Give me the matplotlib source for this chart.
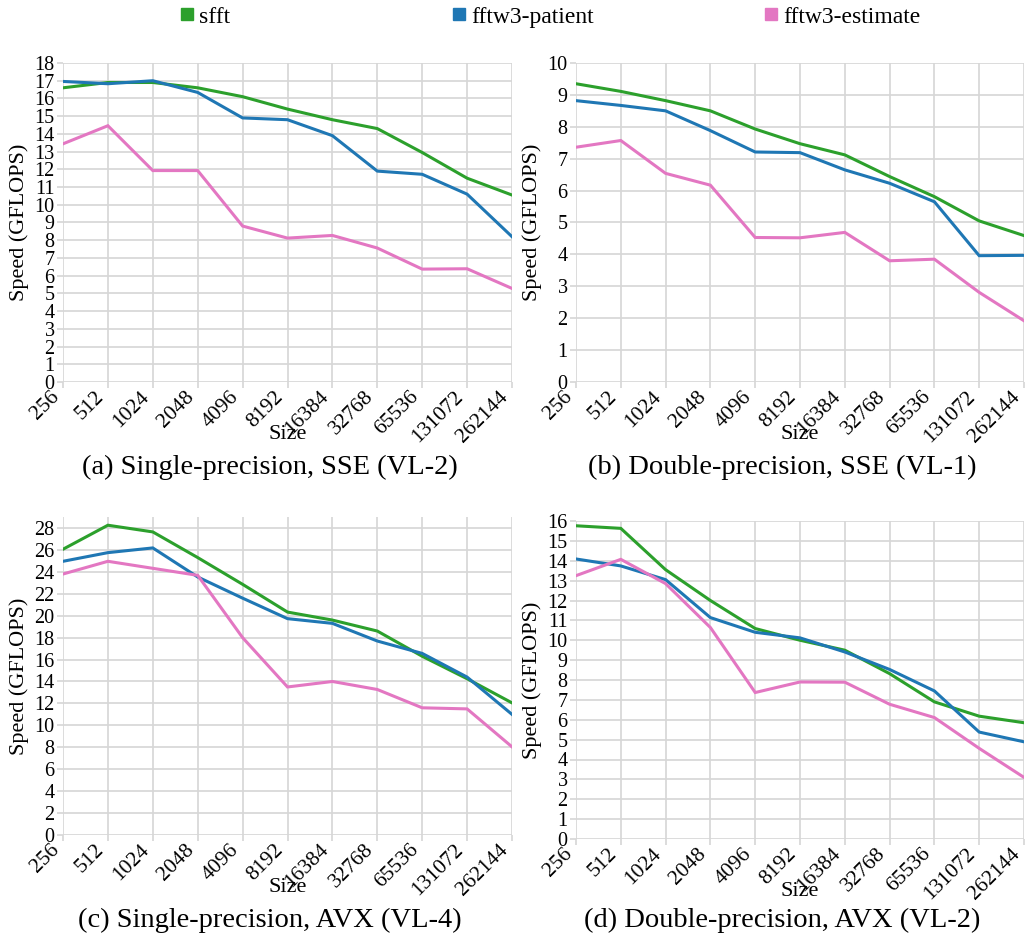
import numpy as np
import matplotlib.pyplot as plt
from matplotlib.lines import Line2D

plt.rcParams["font.family"] = ["Liberation Serif", "DejaVu Serif"]

sizes = ["256", "512", "1024", "2048", "4096", "8192", "16384",
         "32768", "65536", "131072", "262144"]
series_names = ["sfft", "fftw3-patient", "fftw3-estimate"]
colors = ["#2ca02c", "#1f77b4", "#e377c2"]

# (a) single precision, SSE
sse_single_sfft = [16.6, 16.9, 16.9, 16.6, 16.1, 15.4, 14.8, 14.3, 12.95, 11.5, 10.55]
sse_single_patient = [16.96, 16.83, 17.0, 16.34, 14.9, 14.8, 13.9, 11.9, 11.72, 10.6, 8.2]
sse_single_estimate = [13.44, 14.46, 11.93, 11.93, 8.8, 8.12, 8.27, 7.56, 6.37, 6.39, 5.28]

# (b) double precision, SSE
sse_double_sfft = [9.35, 9.11, 8.82, 8.5, 7.93, 7.47, 7.12, 6.44, 5.81, 5.05, 4.59]
sse_double_patient = [8.82, 8.67, 8.5, 7.88, 7.21, 7.19, 6.65, 6.23, 5.65, 3.96, 3.97]
sse_double_estimate = [7.36, 7.57, 6.54, 6.17, 4.53, 4.52, 4.69, 3.8, 3.85, 2.81, 1.92]

# (c) single precision, AVX
avx_single_sfft = [26.06, 28.25, 27.64, 25.3, 22.86, 20.33, 19.6, 18.6, 16.3, 14.25, 12.05]
avx_single_patient = [24.96, 25.75, 26.18, 23.53, 21.6, 19.73, 19.3, 17.69, 16.56, 14.4, 11.0]
avx_single_estimate = [23.8, 24.96, 24.32, 23.68, 18.0, 13.5, 14.0, 13.27, 11.6, 11.5, 8.04]

# (d) double precision, AVX
avx_double_sfft = [15.76, 15.63, 13.55, 12.0, 10.59, 10.0, 9.5, 8.32, 6.9, 6.18, 5.85]
avx_double_patient = [14.09, 13.74, 13.05, 11.14, 10.4, 10.12, 9.41, 8.53, 7.45, 5.38, 4.89]
avx_double_estimate = [13.25, 14.07, 12.85, 10.64, 7.37, 7.9, 7.89, 6.78, 6.11, 4.56, 3.1]

captions = ["(a) Single-precision, SSE (VL-2)", "(b) Double-precision, SSE (VL-1)",
            "(c) Single-precision, AVX (VL-4)", "(d) Double-precision, AVX (VL-2)"]

panels = [
    ([sse_single_sfft, sse_single_patient, sse_single_estimate], 18, 1),
    ([sse_double_sfft, sse_double_patient, sse_double_estimate], 10, 1),
    ([avx_single_sfft, avx_single_patient, avx_single_estimate], 29, 2),
    ([avx_double_sfft, avx_double_patient, avx_double_estimate], 16, 1),
]

W, H = 1030, 938
fig = plt.figure(figsize=(W / 100, H / 100), dpi=100)

# axes boxes in pixels: left, top, right, bottom
boxes = [(63, 63, 512, 382), (576, 63, 1024, 382),
         (63, 517, 512, 835), (576, 521, 1024, 839)]
caption_pos = [(270, 467), (782, 467), (270, 920), (782, 920)]

x = np.arange(len(sizes))
for (data, ymax, step), (l, t, r, b), cap, (cx, cy) in zip(panels, boxes, captions, caption_pos):
    ax = fig.add_axes([l / W, 1 - b / H, (r - l) / W, (b - t) / H])
    for vals, c in zip(data, colors):
        ax.plot(x, vals, color=c, lw=2.2, solid_joinstyle="miter", zorder=3)
    ax.set_xlim(0, len(sizes) - 1)
    ax.set_ylim(0, ymax)
    ax.set_xticks(x)
    ax.set_xticklabels(sizes, rotation=45, ha="right", va="top", fontsize=15.5)
    ax.set_yticks(np.arange(0, ymax + 0.01, step))
    ax.grid(True, color="#d6d6d6", lw=1.2)
    ax.set_axisbelow(True)
    for s in ax.spines.values():
        s.set_visible(False)
    ax.tick_params(axis="both", length=4, color="#d6d6d6", width=1.2, pad=2)
    ax.tick_params(axis="x", pad=0)
    ax.tick_params(axis="y", labelsize=14.5)
    ax.set_ylabel("Speed (GFLOPS)", fontsize=16, va="center")
    ax.yaxis.set_label_coords(-0.098, 0.5)
    ax.set_xlabel("Size", fontsize=16)
    ax.xaxis.set_label_coords(0.5, -0.135)
    fig.text(cx / W, 1 - cy / H, cap, fontsize=20.5, ha="center", va="center")

# legend entries at the top
legend_x = [178, 450, 762]
for name, c, lx in zip(series_names, colors, legend_x):
    h = Line2D([], [], color=c, marker="s", ls="none", markersize=9)
    fig.legend([h], [name], loc="center left", bbox_to_anchor=(lx / W, 1 - 17 / H),
               frameon=False, fontsize=17, handletextpad=0.1, handlelength=0.8,
               borderaxespad=0, borderpad=0)

fig.savefig("out.png", dpi=100)
